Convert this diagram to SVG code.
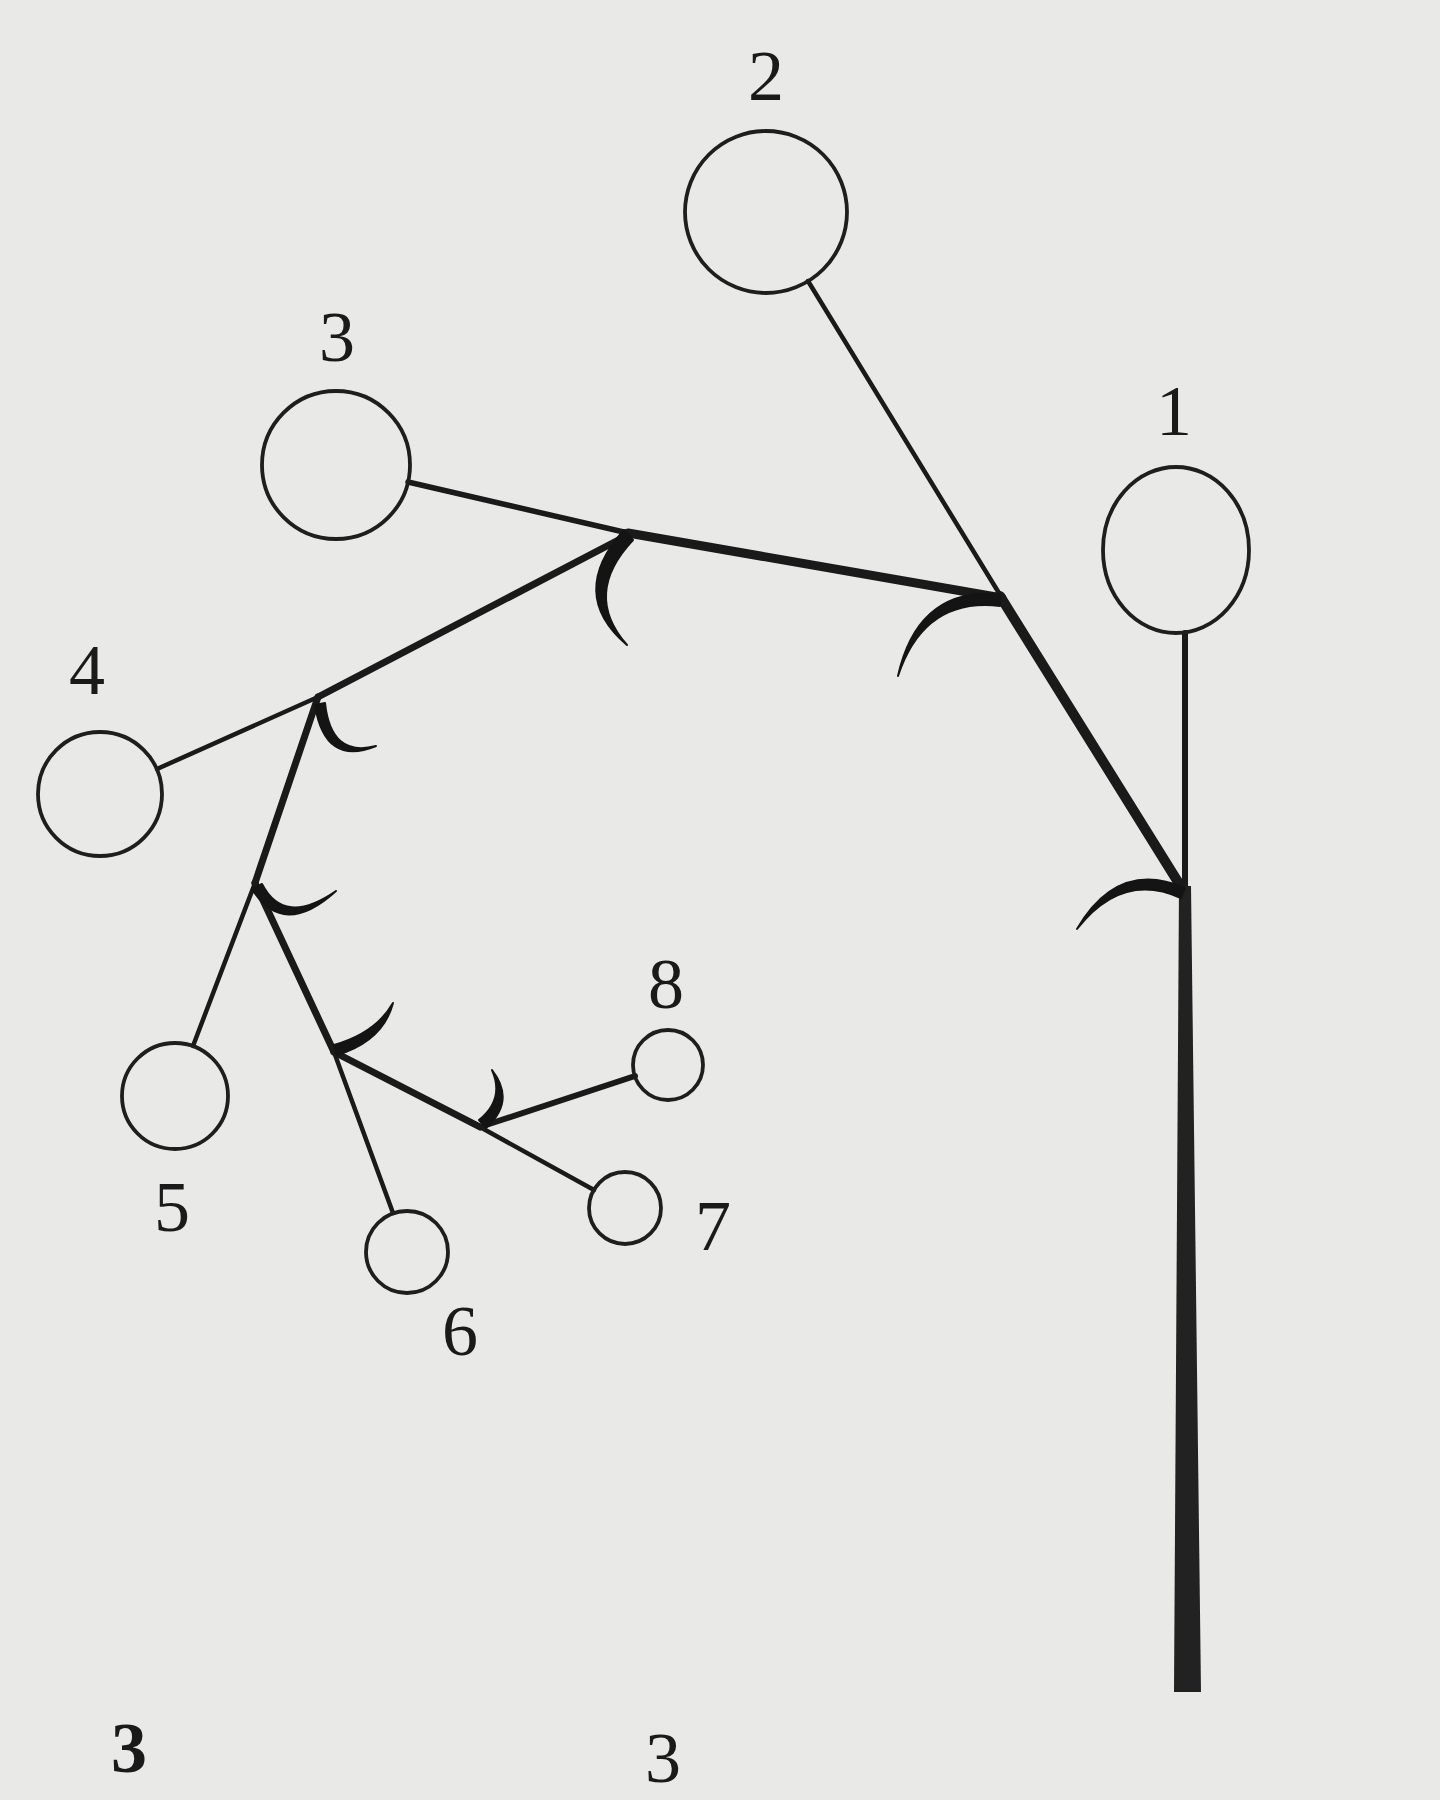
<svg xmlns="http://www.w3.org/2000/svg" width="1440" height="1800" viewBox="0 0 1440 1800">
<style>
.bg{fill:#e9e9e7}
.node{fill:none;stroke:#1e1e1e;stroke-width:3.8}
.lbl{font-family:"Liberation Serif","Times New Roman",serif;font-size:72px;fill:#1a1a1a;text-anchor:middle}
.ln{fill:none;stroke:#1a1a1a;stroke-linecap:round;stroke-linejoin:round}
.thin{stroke-width:4.5}
.mid{stroke-width:7}
.thick{stroke-width:10}
.hook{fill:#141414;stroke:#141414;stroke-width:2;stroke-linejoin:round}
.trunk{fill:#222}
</style>
<rect class="bg" x="0" y="0" width="1440" height="1800"/>

<g id="connectors">
  <line class="ln thin" x1="808" y1="281" x2="1002" y2="598"/>
  <line class="ln thick" x1="1000" y1="596" x2="1183" y2="890"/>
  <line class="ln" stroke-width="6" x1="1185" y1="633" x2="1185" y2="892"/>
  <polygon class="trunk" points="1179,886 1191,886 1201,1692 1174,1692"/>
  <line class="ln" stroke-width="5.5" x1="408" y1="482" x2="628" y2="533"/>
  <line class="ln" stroke-width="9" x1="628" y1="533" x2="1002" y2="598"/>
  <line class="ln thin" x1="157" y1="769" x2="318" y2="697"/>
  <line class="ln mid" x1="318" y1="697" x2="628" y2="535"/>
  <line class="ln mid" x1="318" y1="697" x2="255" y2="883"/>
  <line class="ln thin" x1="193" y1="1046" x2="255" y2="883"/>
  <line class="ln mid" x1="255" y1="883" x2="334" y2="1052"/>
  <line class="ln thin" x1="334" y1="1052" x2="393" y2="1213"/>
  <line class="ln mid" x1="334" y1="1052" x2="480" y2="1127"/>
  <line class="ln thin" x1="480" y1="1127" x2="594" y2="1190"/>
  <line class="ln" stroke-width="6" x1="635" y1="1076" x2="480" y2="1127"/>

  <path class="hook" d="M1185 888 Q1118 859 1077 929 Q1122 871 1181 898 Z"/>
  <path class="hook" d="M1000 594 Q918 587 898 676 Q924 597 1000 606 Z"/>
  <path class="hook" d="M624 530 Q567 594 627 645 Q582 594 633 540 Z"/>
  <path class="hook" d="M315 705 Q325 767 376 746 Q331 758 325 703 Z"/>
  <path class="hook" d="M252 889 Q283 939 336 891 Q284 927 262 884 Z"/>
  <path class="hook" d="M337 1055 Q383 1041 393 1003 Q376 1033 334 1045 Z"/>
  <path class="hook" d="M486 1128 Q516 1101 492 1070 Q505 1099 479 1120 Z"/>
</g>

<g id="node-1">
  <ellipse class="node" cx="1176" cy="550" rx="73" ry="83"/>
  <text class="lbl" x="1174" y="435">1</text>
</g>
<g id="node-2">
  <circle class="node" cx="766" cy="212" r="81"/>
  <text class="lbl" x="766" y="100">2</text>
</g>
<g id="node-3">
  <circle class="node" cx="336" cy="465" r="74"/>
  <text class="lbl" x="337" y="361">3</text>
</g>
<g id="node-4">
  <circle class="node" cx="100" cy="794" r="62"/>
  <text class="lbl" x="87" y="694">4</text>
</g>
<g id="node-5">
  <circle class="node" cx="175" cy="1096" r="53"/>
  <text class="lbl" x="172" y="1231">5</text>
</g>
<g id="node-6">
  <circle class="node" cx="407" cy="1252" r="41"/>
  <text class="lbl" x="460" y="1355">6</text>
</g>
<g id="node-7">
  <circle class="node" cx="625" cy="1208" r="36"/>
  <text class="lbl" x="713" y="1250">7</text>
</g>
<g id="node-8">
  <circle class="node" cx="668" cy="1065" r="35"/>
  <text class="lbl" x="666" y="1008">8</text>
</g>

<g id="page-marks">
  <text class="lbl" x="129" y="1772" font-size="84" font-weight="bold">3</text>
  <text class="lbl" x="663" y="1782" font-size="72" fill="#333">3</text>
</g>
</svg>
